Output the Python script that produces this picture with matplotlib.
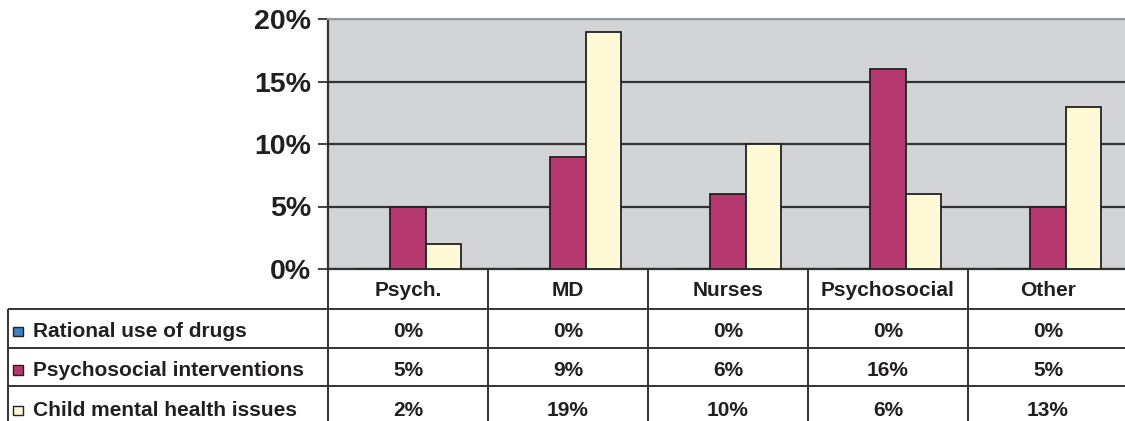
import numpy as np
import matplotlib
matplotlib.use("Agg")
import matplotlib.pyplot as plt
from matplotlib.patches import Rectangle

plt.rcParams['font.family'] = ['Liberation Sans', 'DejaVu Sans']
plt.rcParams['font.weight'] = 'bold'

# ---------------- data ----------------
categories = ["Psych.", "MD", "Nurses", "Psychosocial", "Other"]
series_names = ["Rational use of drugs", "Psychosocial interventions", "Child mental health issues"]
rational = [0, 0, 0, 0, 0]
psychosocial = [5, 9, 6, 16, 5]
child = [2, 19, 10, 6, 13]
yticks = [0, 5, 10, 15, 20]

colors = ["#3F7FC2", "#B5386F", "#FFFAD5"]
series = [rational, psychosocial, child]

# ---------------- figure ----------------
fig = plt.figure(figsize=(11.25, 4.21), dpi=100)
ax = fig.add_axes([328 / 1125, (421 - 269) / 421, 800 / 1125, 250 / 421])
ax.set_facecolor("#D3D4D6")

x = np.arange(len(categories))
w = 0.22
for i, (vals, col) in enumerate(zip(series, colors)):
    ax.bar(x + (i - 1) * w, vals, w, color=col, edgecolor="#222222", linewidth=1.3, zorder=3)

ax.set_xlim(-0.5, len(categories) - 0.5)
ax.set_ylim(0, 20)
ax.set_yticks(yticks)
ax.set_yticklabels([str(v) + "%" for v in yticks], fontsize=20.5, fontweight="bold", color="#231F20")
ax.tick_params(axis="y", length=7, width=1.3, color="#333333", pad=5)
ax.set_xticks([])
ax.yaxis.grid(True, color="#333333", linewidth=1.6, zorder=1)
ax.set_axisbelow(True)
ax.spines["right"].set_visible(False)
ax.spines["top"].set_color("#999999")
ax.spines["top"].set_linewidth(1.5)
for s in ["left", "bottom"]:
    ax.spines[s].set_color("#333333")
    ax.spines[s].set_linewidth(1.6)

# ---------------- data table below ----------------
lc = "#333333"
lw = 1.4
tr = ax.transAxes
ncol = len(categories)
row_y = [0, -0.16, -0.316, -0.468, -0.64]
left = -0.4

def hline(y, x0, x1):
    ax.plot([x0, x1], [y, y], transform=tr, color=lc, lw=lw, clip_on=False, solid_capstyle="butt")

def vline(xv, y0, y1):
    ax.plot([xv, xv], [y0, y1], transform=tr, color=lc, lw=lw, clip_on=False, solid_capstyle="butt")

for y in row_y[1:4]:
    hline(y, left, 1.0)
for j in range(ncol + 1):
    vline(j / ncol, row_y[0], row_y[-1])
vline(left, row_y[1], row_y[-1])

ts = 15
for j, c in enumerate(categories):
    ax.text((j + 0.5) / ncol, (row_y[0] + row_y[1]) / 2 - 0.004, c, transform=tr,
            ha="center", va="center", fontsize=ts, fontweight="bold", color="#231F20")

for r, (name, vals, col) in enumerate(zip(series_names, series, colors)):
    yc = (row_y[r + 1] + row_y[r + 2]) / 2 - 0.012
    sq = Rectangle((left + 0.0065, yc - 0.019), 0.012, 0.038, transform=tr,
                   facecolor=col, edgecolor="#222222", linewidth=1.0, clip_on=False)
    ax.add_patch(sq)
    ax.text(left + 0.031, yc, name, transform=tr, ha="left", va="center",
            fontsize=ts, fontweight="bold", color="#231F20")
    for j, v in enumerate(vals):
        ax.text((j + 0.5) / ncol, yc, str(v) + "%", transform=tr,
                ha="center", va="center", fontsize=ts, fontweight="bold", color="#231F20")

fig.savefig("out.png", dpi=100)
